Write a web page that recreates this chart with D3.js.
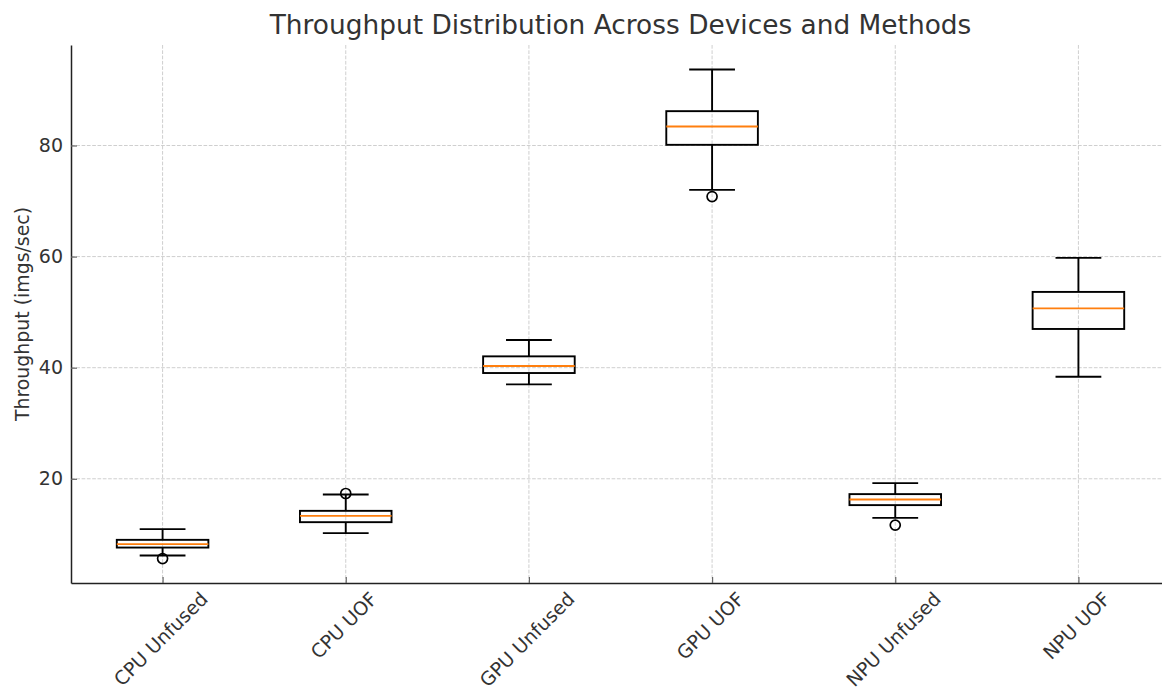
<!DOCTYPE html>
<html>
<head>
<meta charset="utf-8">
<script src="https://cdn.jsdelivr.net/npm/d3@7"></script>
<style>
  html, body { margin: 0; padding: 0; background: #fff; }
  svg { display: block; }
  text { font-family: "DejaVu Sans", sans-serif; }
</style>
</head>
<body>
<svg id="chart" width="1162" height="690"></svg>
<script>
const categories = ["CPU Unfused", "CPU UOF", "GPU Unfused", "GPU UOF", "NPU Unfused", "NPU UOF"];
const whiskerLow  = [6.18, 10.21, 36.99, 72.01, 12.97, 38.38];
const q1          = [7.62, 12.19, 39.04, 80.12, 15.26, 46.97];
const median      = [8.23, 13.33, 40.30, 83.42, 16.27, 50.68];
const q3          = [9.01, 14.23, 42.04, 86.18, 17.24, 53.64];
const whiskerHigh = [10.94, 17.17, 44.99, 93.69, 19.22, 59.77];
const outliers    = [[5.64], [17.35], [], [70.81], [11.66], []];
const yTicks      = [20, 40, 60, 80];
const titleText   = "Throughput Distribution Across Devices and Methods";
const yLabelText  = "Throughput (imgs/sec)";

(function () {
const svg = d3.select("#chart");
const mLeft = 71, mRight = 1170, mTop = 45, mBottom = 583;

const x = d3.scaleLinear().domain([0.5, categories.length + 0.5]).range([mLeft, mRight]);
const y = d3.scaleLinear().domain([1.24, 98.09]).range([mBottom, mTop]);
const step = x(2) - x(1);
const boxW = step * 0.5;
const capW = step * 0.25;

// grid
const grid = svg.append("g");
grid.selectAll("line.hg").data(yTicks).join("line")
  .attr("x1", mLeft).attr("x2", mRight)
  .attr("y1", d => y(d)).attr("y2", d => y(d))
  .attr("stroke", "#cfcfcf").attr("stroke-width", 1).attr("stroke-dasharray", "3.7,1.6");
grid.selectAll("line.vg").data(categories).join("line")
  .attr("x1", (d, i) => x(i + 1)).attr("x2", (d, i) => x(i + 1))
  .attr("y1", mTop).attr("y2", mBottom)
  .attr("stroke", "#cfcfcf").attr("stroke-width", 1).attr("stroke-dasharray", "3.7,1.6");

const fs = 19;

// y axis
const yAxis = d3.axisLeft(y).tickValues(yTicks).tickSizeInner(-6).tickSizeOuter(0).tickPadding(8);
const gy = svg.append("g").attr("transform", `translate(${mLeft},0)`).call(yAxis);
gy.select(".domain").attr("stroke", "#222").attr("stroke-width", 1.5);
gy.selectAll(".tick line").attr("stroke", "#666").attr("stroke-width", 1.2);
gy.selectAll(".tick text").attr("font-size", fs).attr("fill", "#333").attr("font-family", "DejaVu Sans");

// x axis
const xAxis = d3.axisBottom(x).tickValues(d3.range(1, categories.length + 1)).tickFormat(() => "")
  .tickSizeInner(-6).tickSizeOuter(0);
const gx = svg.append("g").attr("transform", `translate(0,${mBottom})`).call(xAxis);
gx.select(".domain").attr("stroke", "#222").attr("stroke-width", 1.5);
gx.selectAll(".tick line").attr("stroke", "#666").attr("stroke-width", 1.2);

// x tick labels, rotated 45 deg, bbox centered on tick
const labels = svg.append("g");
categories.forEach((c, i) => {
  const t = labels.append("text").text(c).attr("font-size", fs).attr("fill", "#333")
    .attr("text-anchor", "middle").attr("dominant-baseline", "central");
  const L = t.node().getComputedTextLength();
  const bh = (L + fs) * Math.SQRT1_2;
  const cx = x(i + 1) - 2, cy = mBottom + 5.5 + bh / 2;
  t.attr("transform", `translate(${cx},${cy}) rotate(-45)`);
});

// boxes
const g = svg.append("g");
categories.forEach((c, i) => {
  const cx = x(i + 1);
  const lw = 1.9;
  g.append("line").attr("x1", cx).attr("x2", cx).attr("y1", y(q3[i])).attr("y2", y(whiskerHigh[i]))
    .attr("stroke", "#000").attr("stroke-width", lw);
  g.append("line").attr("x1", cx).attr("x2", cx).attr("y1", y(q1[i])).attr("y2", y(whiskerLow[i]))
    .attr("stroke", "#000").attr("stroke-width", lw);
  g.append("line").attr("x1", cx - capW / 2).attr("x2", cx + capW / 2)
    .attr("y1", y(whiskerHigh[i])).attr("y2", y(whiskerHigh[i])).attr("stroke", "#000").attr("stroke-width", lw);
  g.append("line").attr("x1", cx - capW / 2).attr("x2", cx + capW / 2)
    .attr("y1", y(whiskerLow[i])).attr("y2", y(whiskerLow[i])).attr("stroke", "#000").attr("stroke-width", lw);
  g.append("rect").attr("x", cx - boxW / 2).attr("width", boxW)
    .attr("y", y(q3[i])).attr("height", y(q1[i]) - y(q3[i]))
    .attr("fill", "none").attr("stroke", "#000").attr("stroke-width", lw);
  g.append("line").attr("x1", cx - boxW / 2).attr("x2", cx + boxW / 2)
    .attr("y1", y(median[i])).attr("y2", y(median[i])).attr("stroke", "#ff7f0e").attr("stroke-width", lw);
  outliers[i].forEach(v => {
    g.append("circle").attr("cx", cx).attr("cy", y(v)).attr("r", 5)
      .attr("fill", "none").attr("stroke", "#000").attr("stroke-width", 1.7);
  });
});

// title
svg.append("text").attr("x", (mLeft + mRight) / 2).attr("y", 34).attr("text-anchor", "middle")
  .attr("font-size", 26.4).attr("fill", "#333").text(titleText);

// y label
svg.append("text").attr("transform", `translate(29,${(mTop + mBottom) / 2}) rotate(-90)`)
  .attr("text-anchor", "middle").attr("font-size", 18.9).attr("fill", "#333").text(yLabelText);
})();
</script>
</body>
</html>
